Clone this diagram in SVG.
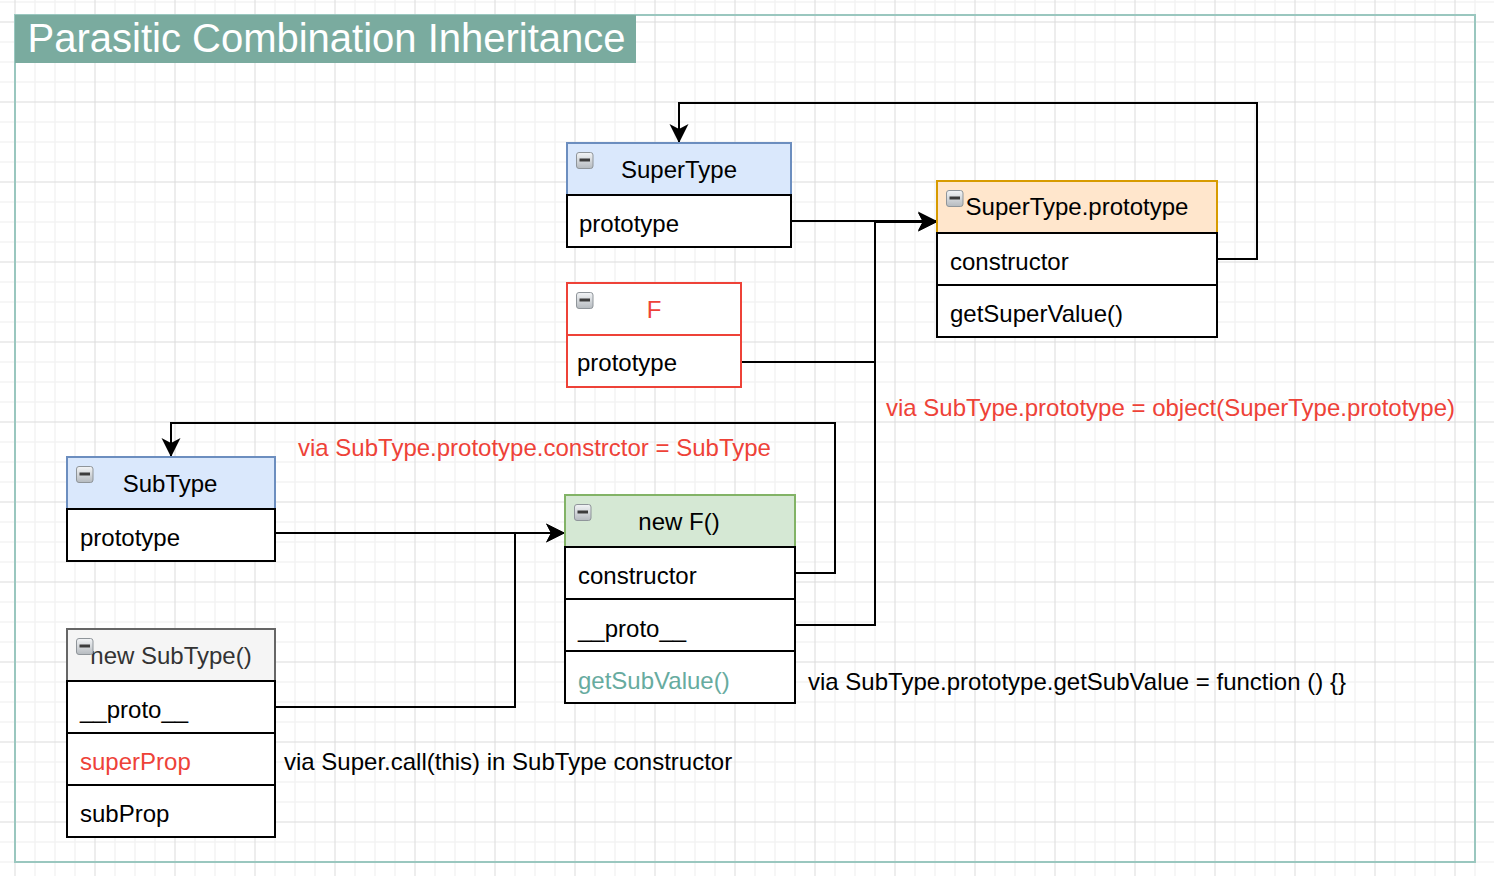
<svg xmlns="http://www.w3.org/2000/svg" xmlns:xlink="http://www.w3.org/1999/xlink" width="1494" height="876" viewBox="0 0 1494 876">
  <style>
    text { font-family: "Liberation Sans", Arial, Helvetica, sans-serif; font-size: 24px; fill: #000; }
    .title { font-size: 40px; fill: #ffffff; }
    .ctr { text-anchor: middle; }
    .red { fill: #EE4238; }
    .teal { fill: #67AB9F; }
    .dark { fill: #333333; }
    .row { fill: #ffffff; stroke: #000000; stroke-width: 2; }
    .hb { fill: #dae8fc; stroke: #6c8ebf; stroke-width: 2; }
    .ho { fill: #ffe6cc; stroke: #d79b00; stroke-width: 2; }
    .hg { fill: #d5e8d4; stroke: #82b366; stroke-width: 2; }
    .hs { fill: #f5f5f5; stroke: #666666; stroke-width: 2; }
    .hr { fill: #ffffff; stroke: #EE4238; stroke-width: 2; }
    .rr { fill: #ffffff; stroke: #EE4238; stroke-width: 2; }
    .edge { fill: none; stroke: #000000; stroke-width: 2; marker-end: url(#arrow); }
  </style>
  <defs>
    <pattern id="grid" patternUnits="userSpaceOnUse" x="5" y="12" width="80" height="80">
      <rect width="80" height="80" fill="#ffffff"/>
      <path d="M30 0V80M50 0V80M70 0V80M0 30H80M0 50H80M0 70H80" stroke="#f3f3f3" stroke-width="1.5" fill="none"/>
      <path d="M10 0V80M0 10H80" stroke="#dcdcdc" stroke-width="1" fill="none"/>
    </pattern>
    <linearGradient id="icoGrad" x1="0" y1="0" x2="0" y2="1">
      <stop offset="0" stop-color="#f3f5f7"/>
      <stop offset="1" stop-color="#b5babf"/>
    </linearGradient>
    <g id="minus">
      <rect x="0.5" y="0.5" width="16.5" height="16" rx="2.5" fill="url(#icoGrad)" stroke="#8f959a" stroke-width="1"/>
      <rect x="3.5" y="6.5" width="10.5" height="3" fill="#3c3c3c"/>
    </g>
    <marker id="arrow" markerUnits="userSpaceOnUse" markerWidth="22" markerHeight="22" viewBox="0 0 22 22" refX="20" refY="11" orient="auto">
      <path d="M1,1.5 L20,11 L1,20.5 L6,11 Z" fill="#000000"/>
    </marker>
  </defs>

  <rect x="0" y="0" width="1494" height="876" fill="url(#grid)"/>
  <rect x="15" y="15" width="1460" height="847" fill="none" stroke="#9AC7BF" stroke-width="2"/>
  <g id="title">
    <rect x="15" y="15" width="621" height="48" fill="#7AAB9F"/>
    <text class="title" x="27.5" y="52">Parasitic Combination Inheritance</text>
  </g>

  <g id="connectors">
    <path class="edge" d="M791,221 H937"/>
    <path class="edge" d="M741,362 H875 V222 H937"/>
    <path class="edge" d="M795,625 H875 V222 H937"/>
    <path class="edge" d="M1217,259 H1257 V103 H679 V143"/>
    <path class="edge" d="M795,573 H835 V423 H171 V457"/>
    <path class="edge" d="M275,533 H565"/>
    <path class="edge" d="M275,707 H515 V533 H565"/>
  </g>

  <g id="node-supertype">
    <rect class="hb" x="567" y="143" width="224" height="52"/>
    <rect class="row" x="567" y="195" width="224" height="52"/>
    <use xlink:href="#minus" x="576" y="152"/>
    <text class="ctr" x="679" y="178">SuperType</text>
    <text x="579" y="232">prototype</text>
  </g>

  <g id="node-f">
    <rect class="hr" x="567" y="283" width="174" height="52"/>
    <rect class="rr" x="567" y="335" width="174" height="52"/>
    <use xlink:href="#minus" x="576" y="292"/>
    <text class="ctr red" x="654" y="318">F</text>
    <text x="577" y="371">prototype</text>
  </g>

  <g id="node-supertype-prototype">
    <rect class="ho" x="937" y="181" width="280" height="52"/>
    <rect class="row" x="937" y="233" width="280" height="52"/>
    <rect class="row" x="937" y="285" width="280" height="52"/>
    <use xlink:href="#minus" x="946" y="190"/>
    <text class="ctr" x="1077" y="215">SuperType.prototype</text>
    <text x="950" y="270">constructor</text>
    <text x="950" y="322">getSuperValue()</text>
  </g>

  <g id="node-subtype">
    <rect class="hb" x="67" y="457" width="208" height="52"/>
    <rect class="row" x="67" y="509" width="208" height="52"/>
    <use xlink:href="#minus" x="76" y="466"/>
    <text class="ctr" x="170" y="492">SubType</text>
    <text x="80" y="546">prototype</text>
  </g>

  <g id="node-new-f">
    <rect class="hg" x="565" y="495" width="230" height="52"/>
    <rect class="row" x="565" y="547" width="230" height="52"/>
    <rect class="row" x="565" y="599" width="230" height="52"/>
    <rect class="row" x="565" y="651" width="230" height="52"/>
    <use xlink:href="#minus" x="574" y="504"/>
    <text class="ctr" x="679" y="530">new F()</text>
    <text x="578" y="584">constructor</text>
    <text x="578" y="637">__proto__</text>
    <text class="teal" x="578" y="689">getSubValue()</text>
  </g>

  <g id="node-new-subtype">
    <rect class="hs" x="67" y="629" width="208" height="52"/>
    <rect class="row" x="67" y="681" width="208" height="52"/>
    <rect class="row" x="67" y="733" width="208" height="52"/>
    <rect class="row" x="67" y="785" width="208" height="52"/>
    <text class="ctr dark" x="171" y="664">new SubType()</text>
    <use xlink:href="#minus" x="76" y="638"/>
    <text x="80" y="718">__proto__</text>
    <text class="red" x="80" y="770">superProp</text>
    <text x="80" y="822">subProp</text>
  </g>

  <g id="labels">
    <text class="red" x="886" y="416">via SubType.prototype = object(SuperType.prototype)</text>
    <text class="red" x="298" y="456">via SubType.prototype.constrctor = SubType</text>
    <text x="808" y="690">via SubType.prototype.getSubValue = function () {}</text>
    <text x="284" y="770">via Super.call(this) in SubType constructor</text>
  </g>
</svg>
